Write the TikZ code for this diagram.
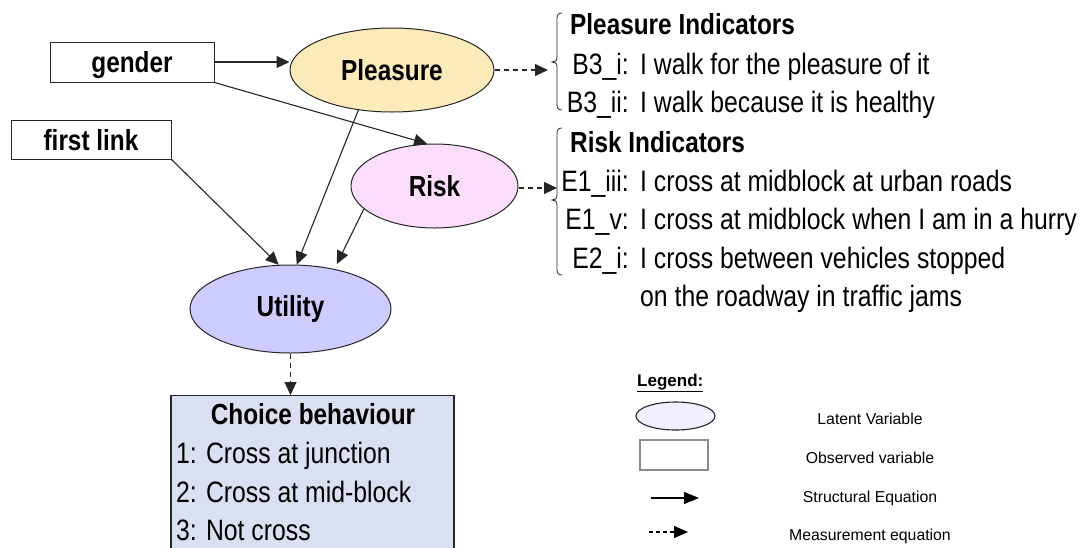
\documentclass[tikz,border=0pt]{standalone}
\usepackage{fontspec}
\usetikzlibrary{shapes.geometric,arrows.meta}

\newfontfamily\narrowsans[FakeStretch=0.84]{Liberation Sans}
\newfontfamily\plainsans{Liberation Sans}
\newcommand{\nodefont}{\narrowsans\bfseries\fontsize{29}{34}\selectfont}
\newcommand{\itemfont}{\narrowsans\fontsize{29.5}{35}\selectfont}
\newcommand{\legendfont}{\plainsans\fontsize{15.8}{19}\selectfont}
\newcommand{\legendhead}{\plainsans\bfseries\fontsize{17}{20}\selectfont}

\definecolor{pleasurefill}{HTML}{FCEAB8}
\definecolor{riskfill}{HTML}{FDDDFD}
\definecolor{utilityfill}{HTML}{CCCCFF}
\definecolor{choicefill}{HTML}{D9E0F1}
\definecolor{latentfill}{HTML}{EFEFFF}
\definecolor{edge}{HTML}{262626}

% left curly brace: #1 spine x, #2 top y, #3 tip y, #4 bottom y
\newcommand{\curlbrace}[4]{%
  \draw[bracestyle] ({#1+5},#2) .. controls ({#1+1},#2) and (#1,{#2+2}) .. (#1,{#2+6})
    -- (#1,{#3-5}) .. controls (#1,{#3-1}) and ({#1-2},#3) .. ({#1-5},#3)
    .. controls ({#1-2},#3) and (#1,{#3+1}) .. (#1,{#3+5})
    -- (#1,{#4-6}) .. controls (#1,{#4-2}) and ({#1+1},#4) .. ({#1+5},#4);}

\tikzset{
  latent/.style={ellipse, draw=edge, line width=1pt, inner sep=0pt, font=\nodefont},
  observed/.style={rectangle, draw=edge, line width=1pt, inner sep=0pt, text depth=0pt, font=\nodefont},
  struct/.style={-{Triangle[length=13pt,width=12pt]}, line width=1.1pt, draw=edge},
  meas/.style={struct, dash pattern=on 5pt off 4pt},
  bracestyle/.style={line width=0.8pt, draw=edge},
  itemtext/.style={inner sep=0pt, font=\itemfont},
  titletext/.style={inner sep=0pt, font=\nodefont},
  legendtext/.style={inner sep=0pt, font=\legendfont, anchor=base},
}

\begin{document}
\begin{tikzpicture}[x=1pt, y=-1pt]
  \clip (0,0) rectangle (1081,547);
  \fill[white] (0,0) rectangle (1081,547);

  % observed variables
  \node[observed, minimum width=164, minimum height=40] (gender) at (132,62) {gender};
  \node[observed, minimum width=160, minimum height=39] (first) at (91,139.5) {first link};

  % latent variables
  \node[latent, fill=pleasurefill, minimum width=204, minimum height=84] (pleasure) at (392,70) {Pleasure};
  \node[latent, fill=riskfill, minimum width=167, minimum height=84] (risk) at (434.5,186) {Risk};
  \node[latent, fill=utilityfill, minimum width=201, minimum height=88] (utility) at (290.5,309) {Utility};

  % choice box (runs past the lower edge)
  \node[rectangle, draw=edge, line width=1.2pt, fill=choicefill, minimum width=283,
        minimum height=175, anchor=north] (choice) at (312.5,395) {};
  \node[titletext, anchor=base] (choicetitle) at (313,424) {Choice behaviour};
  \node[itemtext, anchor=base west] (c1) at (176,463) {1: Cross at junction};
  \node[itemtext, anchor=base west] (c2) at (176,502) {2: Cross at mid-block};
  \node[itemtext, anchor=base west] (c3) at (176,540) {3: Not cross};

  % structural equations
  \draw[struct] (gender.east) -- (gender.east -| pleasure.west);
  \draw[struct] (gender.south east) -- (risk.100);
  \draw[struct] (first.south east) -- (utility.105);
  \draw[struct] (pleasure.230) -- (utility.82);
  \draw[struct] (risk.198) -- ([shift={(2,-5)}]utility.42);

  % measurement equations
  \coordinate (pbrace) at (548,70);
  \coordinate (rbrace) at (557,188);
  \draw[meas] (pleasure.east) -- (pbrace);
  \draw[meas] (risk.east |- rbrace) -- (rbrace);
  \draw[meas] (utility.south) -- (utility.south |- choice.north);

  % indicator braces
  \curlbrace{557}{13}{62}{110}
  \curlbrace{557}{128}{200}{275}

  % pleasure indicators
  \node[titletext, anchor=base west] (ptitle) at (570,34) {Pleasure Indicators};
  \node[itemtext, anchor=base east] (b3il) at (629,74) {B3\_i:};
  \node[itemtext, anchor=base west] (b3it) at (640,74) {I walk for the pleasure of it};
  \node[itemtext, anchor=base east] (b3iil) at (629,112) {B3\_ii:};
  \node[itemtext, anchor=base west] (b3iit) at (640,112) {I walk because it is healthy};

  % risk indicators
  \node[titletext, anchor=base west] (rtitle) at (570,152) {Risk Indicators};
  \node[itemtext, anchor=base east] (e1iiil) at (629,191) {E1\_iii:};
  \node[itemtext, anchor=base west] (e1iiit) at (640,191) {I cross at midblock at urban roads};
  \node[itemtext, anchor=base east] (e1vl) at (629,229.5) {E1\_v:};
  \node[itemtext, anchor=base west] (e1vt) at (640,229.5) {I cross at midblock when I am in a hurry};
  \node[itemtext, anchor=base east] (e2il) at (629,268) {E2\_i:};
  \node[itemtext, anchor=base west] (e2it) at (640,268) {I cross between vehicles stopped};
  \node[itemtext, anchor=base west] (e2it2) at (640,306.5) {on the roadway in traffic jams};

  % legend
  \node[inner sep=0pt, font=\legendhead, anchor=base west] (lgdhead) at (637,386) {\underline{Legend:}};
  \node[ellipse, draw=edge, line width=1.1pt, fill=latentfill, minimum width=79, minimum height=28, inner sep=0pt] (lgdlatent) at (675.5,416) {};
  \node[rectangle, draw=black!45, line width=1.1pt, minimum width=68, minimum height=30, inner sep=0pt] (lgdobs) at (674,455) {};
  \coordinate (lsa) at (651,498);
  \coordinate (lsb) at (699,498);
  \coordinate (lma) at (649,532);
  \coordinate (lmb) at (688,532);
  \draw[-{Triangle[length=15pt,width=12pt]}, line width=1.1pt] (lsa) -- (lsb);
  \draw[-{Triangle[length=14pt,width=12pt]}, line width=1.1pt, dash pattern=on 4pt off 3pt] (lma) -- (lmb);
  \node[legendtext] (l1) at (870,424) {Latent Variable};
  \node[legendtext] (l2) at (870,463) {Observed variable};
  \node[legendtext] (l3) at (870,502) {Structural Equation};
  \node[legendtext] (l4) at (870,540) {Measurement equation};
\end{tikzpicture}
\end{document}
